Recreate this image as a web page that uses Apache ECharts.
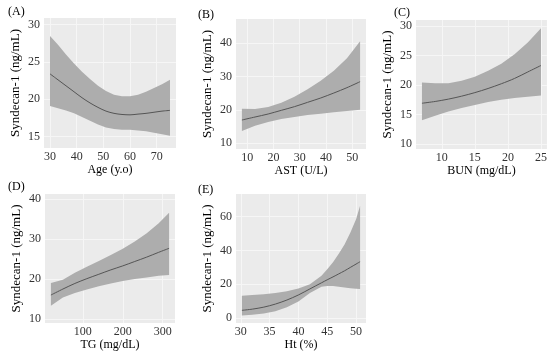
<!DOCTYPE html>
<html>
<head>
<meta charset="utf-8">
<script src="https://cdn.jsdelivr.net/npm/echarts@6/dist/echarts.min.js"></script>
<style>
html,body{margin:0;padding:0;background:#ffffff;}
#chart{width:550px;height:352px;}
</style>
</head>
<body>
<div id="chart"></div>
<script>
// ---- Panel A: Age ----
const ageX     = [30, 33, 36, 39, 42, 45, 48, 51, 54, 57, 60, 63, 66, 69, 72, 75];
const ageFit   = [23.4, 22.6, 21.8, 21.0, 20.2, 19.5, 18.9, 18.4, 18.1, 17.95, 17.9, 18.0, 18.1, 18.25, 18.4, 18.5];
const ageLower = [19.1, 18.8, 18.5, 18.1, 17.6, 17.1, 16.6, 16.2, 16.0, 15.9, 15.9, 15.8, 15.7, 15.5, 15.3, 15.1];
const ageUpper = [28.5, 27.3, 26.0, 24.8, 23.7, 22.7, 21.8, 21.1, 20.6, 20.4, 20.4, 20.6, 21.0, 21.5, 22.0, 22.6];
const ageXTicks = [30, 40, 50, 60, 70];
const ageYTicks = [15, 20, 25, 30];

// ---- Panel B: AST ----
const astX     = [8, 13, 18, 23, 28, 33, 38, 43, 48, 53];
const astFit   = [17.0, 17.9, 18.8, 19.9, 21.0, 22.3, 23.6, 25.1, 26.7, 28.5];
const astLower = [13.7, 15.3, 16.4, 17.3, 17.9, 18.5, 18.9, 19.3, 19.7, 20.1];
const astUpper = [20.4, 20.3, 20.9, 22.2, 24.0, 26.2, 28.8, 31.8, 35.5, 40.6];
const astXTicks = [10, 20, 30, 40, 50];
const astYTicks = [10, 20, 30, 40];

// ---- Panel C: BUN ----
const bunX     = [7, 9, 11, 13, 15, 17, 19, 21, 23, 25];
const bunFit   = [16.9, 17.2, 17.6, 18.1, 18.7, 19.4, 20.2, 21.1, 22.2, 23.3];
const bunLower = [14.0, 14.8, 15.5, 16.1, 16.6, 17.1, 17.5, 17.8, 18.0, 18.2];
const bunUpper = [20.4, 20.3, 20.3, 20.7, 21.4, 22.4, 23.6, 25.2, 27.2, 29.6];
const bunXTicks = [10, 15, 20, 25];
const bunYTicks = [10, 15, 20, 25, 30];

// ---- Panel D: TG ----
const tgX     = [20, 50, 80, 110, 140, 170, 200, 230, 260, 290, 316];
const tgFit   = [16.0, 17.5, 18.9, 20.1, 21.2, 22.3, 23.3, 24.4, 25.5, 26.7, 27.7];
const tgLower = [13.3, 15.4, 16.5, 17.4, 18.2, 18.9, 19.5, 20.0, 20.4, 20.8, 21.0];
const tgUpper = [19.0, 19.8, 21.6, 23.1, 24.5, 26.0, 27.6, 29.4, 31.5, 34.0, 36.6];
const tgXTicks = [100, 200, 300];
const tgYTicks = [10, 20, 30, 40];

// ---- Panel E: Ht ----
const htX     = [30.2, 32, 34, 36, 38, 40, 42, 44, 45, 46, 47, 48, 49, 50, 50.7];
const htFit   = [4.5, 5.2, 6.4, 8.2, 10.6, 13.6, 17.2, 20.8, 22.6, 24.3, 26.1, 27.9, 29.9, 31.9, 33.3];
const htLower = [1.4, 1.9, 2.6, 4.0, 6.3, 9.8, 14.8, 18.5, 18.9, 18.9, 18.5, 18.0, 17.6, 17.3, 17.1];
const htUpper = [13.2, 13.6, 14.1, 14.8, 15.8, 17.5, 20.0, 25.0, 28.8, 33.0, 38.0, 43.5, 50.5, 58.5, 66.5];
const htXTicks = [30, 35, 40, 45, 50];
const htYTicks = [0, 20, 40, 60];

const panelLabels = ['(A)', '(B)', '(C)', '(D)', '(E)'];
const xTitles = ['Age (y.o)', 'AST (U/L)', 'BUN (mg/dL)', 'TG (mg/dL)', 'Ht (%)'];
const yTitle = 'Syndecan-1 (ng/mL)';
const yLimits = [[13.45, 30.9], [8.3, 47.3], [9.15, 31.0], [9.0, 41.3], [-3, 73.4]];

const panels = [
  {x: ageX, fit: ageFit, lo: ageLower, hi: ageUpper, xt: ageXTicks, yt: ageYTicks},
  {x: astX, fit: astFit, lo: astLower, hi: astUpper, xt: astXTicks, yt: astYTicks},
  {x: bunX, fit: bunFit, lo: bunLower, hi: bunUpper, xt: bunXTicks, yt: bunYTicks},
  {x: tgX,  fit: tgFit,  lo: tgLower,  hi: tgUpper,  xt: tgXTicks,  yt: tgYTicks},
  {x: htX,  fit: htFit,  lo: htLower,  hi: htUpper,  xt: htXTicks,  yt: htYTicks}
];

// layout
const grids = [
  {left: 44,  top: 18,  width: 132, height: 130},
  {left: 236, top: 19,  width: 130, height: 130},
  {left: 416, top: 20,  width: 132, height: 129},
  {left: 45,  top: 194, width: 130, height: 129},
  {left: 236, top: 194, width: 130, height: 129}
];
const labelPos = [
  {left: 3, top: 1}, {left: 193, top: 4}, {left: 389, top: 2},
  {left: 3, top: 176}, {left: 193, top: 179}
];

const FONT = '"Liberation Serif", "DejaVu Serif", serif';
const BG = '#EBEBEB';
const BAND = '#ADADAD';
const LINE = '#555555';

const option = {
  backgroundColor: '#ffffff',
  animation: false,
  textStyle: {fontFamily: FONT},
  title: panelLabels.map((t, i) => ({
    text: t, left: labelPos[i].left, top: labelPos[i].top,
    textStyle: {fontFamily: FONT, fontSize: 12, fontWeight: 'normal', color: '#000'}
  })),
  grid: grids.map(g => Object.assign({show: true, backgroundColor: BG, borderWidth: 0}, g)),
  xAxis: [],
  yAxis: [],
  series: []
};

panels.forEach((p, i) => {
  const xmin = Math.min(...p.x), xmax = Math.max(...p.x);
  const pad = (xmax - xmin) * 0.05;
  option.xAxis.push({
    type: 'value', gridIndex: i,
    min: xmin - pad, max: xmax + pad,
    name: xTitles[i], nameLocation: 'middle', nameGap: 13,
    nameTextStyle: {fontFamily: FONT, fontSize: 12, color: '#000'},
    axisLine: {show: false},
    axisTick: {show: false, customValues: p.xt},
    axisLabel: {customValues: p.xt, fontFamily: FONT, fontSize: 12, color: '#333', margin: 3},
    splitLine: {show: true, lineStyle: {color: '#F6F6F6', width: 1}}
  });
  option.yAxis.push({
    type: 'value', gridIndex: i,
    min: yLimits[i][0], max: yLimits[i][1],
    name: yTitle, nameLocation: 'middle', nameGap: 22,
    nameTextStyle: {fontFamily: FONT, fontSize: 13, color: '#000'},
    axisLine: {show: false},
    axisTick: {show: false, customValues: p.yt},
    axisLabel: {customValues: p.yt, fontFamily: FONT, fontSize: 12, color: '#333', margin: 4},
    splitLine: {show: true, lineStyle: {color: '#F6F6F6', width: 1}}
  });
  // confidence band: polygon built from the lower/upper arrays through the axis scales
  option.series.push({
    type: 'custom', xAxisIndex: i, yAxisIndex: i, silent: true, clip: true,
    data: p.x.map((x, k) => [x, p.lo[k], p.hi[k]]),
    encode: {x: 0, y: [1, 2]},
    renderItem: function (params, api) {
      if (params.dataIndex !== 0) return null;
      const upper = p.x.map((x, k) => api.coord([x, p.hi[k]]));
      const lower = p.x.map((x, k) => api.coord([x, p.lo[k]])).reverse();
      return {
        type: 'polygon',
        shape: {points: upper.concat(lower)},
        style: {fill: BAND, stroke: null}
      };
    }
  });
  option.series.push({
    type: 'line', xAxisIndex: i, yAxisIndex: i,
    data: p.x.map((x, k) => [x, p.fit[k]]),
    symbol: 'none', smooth: 0.3, lineStyle: {color: LINE, width: 1}, silent: true
  });
});

const chart = echarts.init(document.getElementById('chart'), null, {renderer: 'canvas'});
chart.setOption(option);
</script>
</body>
</html>
